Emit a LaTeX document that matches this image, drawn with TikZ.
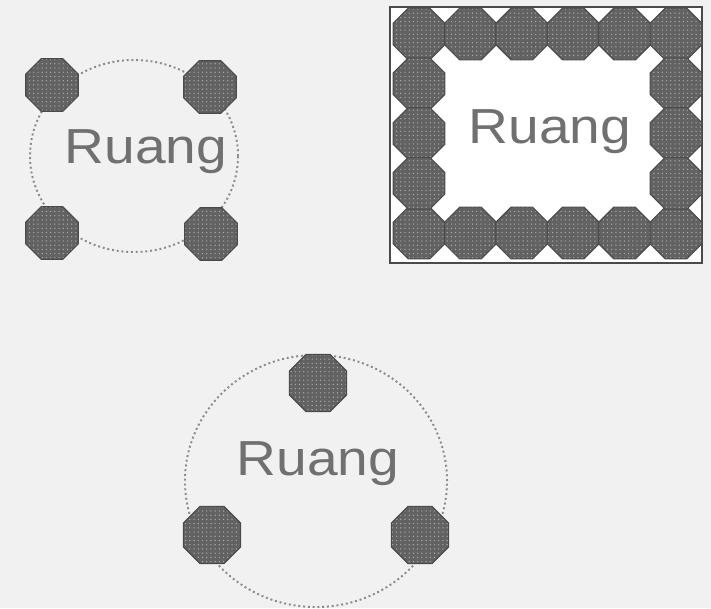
\documentclass[tikz,border=0pt]{standalone}
\usepackage{fontspec}
\newfontfamily\ruangfont[FakeStretch=1.12]{Liberation Sans}
\usetikzlibrary{shapes.geometric, patterns}
\definecolor{cpaper}{HTML}{F1F1F1}
\definecolor{cseed}{HTML}{626262}
\definecolor{cdot}{HTML}{ADADAD}
\definecolor{cedge}{HTML}{4A4A4A}
\definecolor{cring}{HTML}{8C8C8C}
\definecolor{ctext}{HTML}{707070}
\tikzset{
  octa/.style={regular polygon, regular polygon sides=8, inner sep=0pt, minimum size=#1,
    draw=cedge, line width=0.8pt, preaction={fill=cseed}, pattern=dots, pattern color=cdot},
  octa/.default=1.42cm,
  ring/.style={ellipse, draw=cring, dotted, line width=1.4pt, inner sep=0pt},
  frame/.style={rectangle, draw=cedge, fill=white, line width=0.8pt, inner sep=0pt},
  label/.style={anchor=base, text=ctext, inner sep=0pt, font=\ruangfont\fontsize{35}{40}\selectfont},
}

\begin{document}
\begin{tikzpicture}[x=0.025cm, y=-0.025cm]
  \fill[cpaper] (0,0) rectangle (711,608);
  \useasboundingbox (0,0) rectangle (711,608);
  % top left: four at the corners
  \node[ring, minimum width=5.2cm, minimum height=4.8cm] (r1) at (134,156) {};
  \node[label] (t1) at (146,163) {Ruang};
  \node[octa] (a1) at (52,85) {};
  \node[octa] (a2) at (210,87) {};
  \node[octa] (a3) at (52,233) {};
  \node[octa] (a4) at (211,234) {};
  % top right: a full border
  \node[frame, minimum width=7.8cm, minimum height=6.4cm] (r2) at (546,135) {};
  \foreach \i in {0,...,5} {
    \node[octa=1.4cm] (b-top-\i) at (419+51.4*\i,34) {};
    \node[octa=1.4cm] (b-bot-\i) at (419+51.4*\i,233) {};
  }
  \foreach \j in {1,2,3} {
    \node[octa=1.4cm] (b-left-\j) at (419,34+49.75*\j) {};
    \node[octa=1.4cm] (b-right-\j) at (676,34+49.75*\j) {};
  }
  \node[label] (t2) at (550,143) {Ruang};
  % bottom: three round the circle
  \node[ring, minimum width=6.55cm, minimum height=6.3cm] (r3) at (316,481) {};
  \node[label] (t3) at (318,475) {Ruang};
  \node[octa=1.55cm] (c1) at (318,383) {};
  \node[octa=1.55cm] (c2) at (212,535) {};
  \node[octa=1.55cm] (c3) at (420,535) {};
\end{tikzpicture}
\end{document}
